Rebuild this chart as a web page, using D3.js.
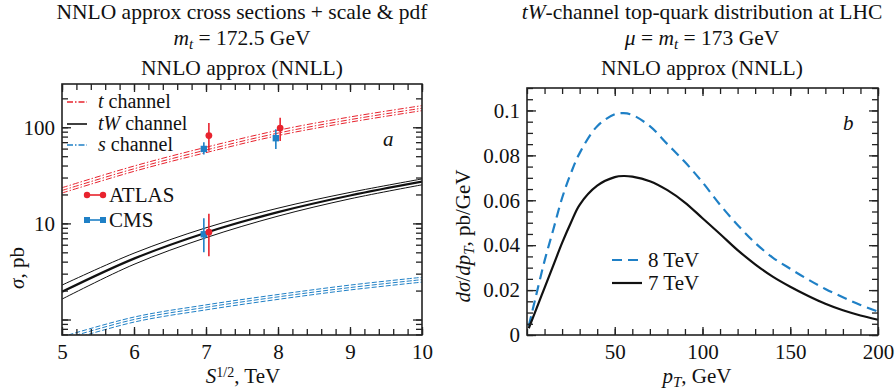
<!DOCTYPE html>
<html>
<head>
<meta charset="utf-8">
<script src="https://cdn.jsdelivr.net/npm/d3@7"></script>
<style>
  body { margin: 0; background: #fff; }
  svg { display: block; }
  text { font-family: "Liberation Serif", "Times New Roman", Times, "DejaVu Serif", serif; fill: #111; }
  .tick text { font-size: 21px; fill: #111; }
</style>
</head>
<body>
<div id="chart"></div>
<script>
// ---- panel a: total cross sections vs sqrt(S) ----
const energies = [5, 6, 7, 8, 9, 10];
const tChannel = [22, 37, 58, 87, 120, 158];
const tChannelUp = [23.5, 39.5, 62, 93, 128, 168];
const tChannelLo = [20.7, 34.8, 54.5, 82, 113, 149];
const tWChannel = [1.94, 4.3, 8.0, 13.1, 19.5, 27.2];
const tWChannelUp = [2.28, 4.9, 9.0, 14.4, 21.0, 29.0];
const tWChannelLo = [1.63, 3.75, 7.1, 11.9, 18.0, 25.2];
const sChannel = [0.62, 1.0, 1.34, 1.72, 2.15, 2.6];
const sChannelUp = [0.66, 1.06, 1.42, 1.82, 2.28, 2.75];
const sChannelLo = [0.58, 0.94, 1.26, 1.62, 2.03, 2.45];

const atlasX = [7.04, 8.03, 7.04];
const atlasY = [82, 98, 8.1];
const atlasLo = [57, 72, 4.55];
const atlasHi = [111, 126, 12.6];
const cmsX = [6.97, 7.97, 6.97];
const cmsY = [59.5, 77, 7.7];
const cmsLo = [52, 59.5, 5.0];
const cmsHi = [70, 95.5, 11.3];

const aXTicks = [5, 6, 7, 8, 9, 10];
const aYLabels = [10, 100];

// ---- panel b: tW pT distribution ----
const pT = [1, 5, 10, 15, 20, 25, 30, 40, 50, 55, 60, 70, 80, 90, 100, 110, 120, 130, 140, 150, 160, 170, 180, 190, 200];
const dist7 = [0.003, 0.011, 0.021, 0.031, 0.041, 0.050, 0.058, 0.0665, 0.0703, 0.0708, 0.0705, 0.0685, 0.0645, 0.059, 0.052, 0.045, 0.0378, 0.0315, 0.026, 0.0215, 0.0175, 0.0139, 0.011, 0.0087, 0.0068];
const dist8 = [0.004, 0.017, 0.033, 0.047, 0.061, 0.072, 0.081, 0.093, 0.0983, 0.0988, 0.098, 0.093, 0.085, 0.077, 0.068, 0.058, 0.049, 0.041, 0.0345, 0.0295, 0.0248, 0.0205, 0.0168, 0.0134, 0.0104];
const bXTicks = [50, 100, 150, 200];
const bYTicks = [0, 0.02, 0.04, 0.06, 0.08, 0.1];

const red = '#e8232e', blue = '#1f80c6';
const W = 896, H = 391;
const FS = '21px';

const svg = d3.select('#chart').append('svg').attr('width', W).attr('height', H);

function rich(sel, parts) {
  parts.forEach(p => {
    const t = sel.append('tspan').text(p.t);
    if (p.i) t.style('font-style', 'italic');
    if (p.sub) t.attr('baseline-shift', '-25%').style('font-size', '15px');
    if (p.sup) t.attr('baseline-shift', '40%').style('font-size', '14px');
  });
  return sel;
}

function frame(g, x, y, xMinor, yMinor, xMajor, yMajor) {
  const [x0, x1] = x.range(), [y0, y1] = y.range();
  g.append('g').attr('transform', `translate(0,${y0})`)
    .call(d3.axisBottom(x).tickValues(xMinor).tickSize(-6).tickFormat(''));
  g.append('g').attr('transform', `translate(0,${y1})`)
    .call(d3.axisTop(x).tickValues(xMinor).tickSize(-6).tickFormat(''));
  g.append('g').attr('transform', `translate(${x0},0)`)
    .call(d3.axisLeft(y).tickValues(yMinor).tickSize(-6).tickFormat(''));
  g.append('g').attr('transform', `translate(${x1},0)`)
    .call(d3.axisRight(y).tickValues(yMinor).tickSize(-6).tickFormat(''));
  g.append('g').attr('transform', `translate(${x0},0)`)
    .call(d3.axisLeft(y).tickValues(yMajor).tickSize(-9).tickFormat(''));
  g.append('g').attr('transform', `translate(${x1},0)`)
    .call(d3.axisRight(y).tickValues(yMajor).tickSize(-9).tickFormat(''));
  g.append('g').attr('transform', `translate(0,${y0})`)
    .call(d3.axisBottom(x).tickValues(xMajor).tickSize(-8).tickFormat(''));
  g.append('g').attr('transform', `translate(0,${y1})`)
    .call(d3.axisTop(x).tickValues(xMajor).tickSize(-8).tickFormat(''));
  g.selectAll('.domain').remove();
  g.selectAll('.tick line').attr('stroke', '#222').attr('stroke-width', 1.3);
  g.append('rect').attr('x', x0).attr('y', y1).attr('width', x1 - x0).attr('height', y0 - y1)
    .attr('fill', 'none').attr('stroke', '#222').attr('stroke-width', 1.6);
}

function labelAxis(g, axis, tx, ty) {
  g.append('g').attr('transform', `translate(${tx},${ty})`).call(axis)
    .attr('font-family', null).attr('font-size', null)
    .call(s => s.select('.domain').remove());
}

// ================= panel a =================
const xa = d3.scaleLinear().domain([5, 10]).range([62, 422]);
const ya = d3.scaleLog().domain([0.69, 282]).range([335, 84]);
const ga = svg.append('g');

ga.append('clipPath').attr('id', 'clipA').append('rect')
  .attr('x', 62).attr('y', 84).attr('width', 360).attr('height', 251);

const lineA = vals => d3.line().curve(d3.curveCatmullRom)
  .x((d, i) => xa(energies[i])).y(d => ya(d))(vals);

const curves = ga.append('g').attr('clip-path', 'url(#clipA)');
[tChannelUp, tChannel, tChannelLo].forEach(v => curves.append('path').attr('d', lineA(v))
  .attr('fill', 'none').attr('stroke', red).attr('stroke-width', 1).attr('stroke-dasharray', '6,2,1.5,2'));
[sChannelUp, sChannel, sChannelLo].forEach(v => curves.append('path').attr('d', lineA(v))
  .attr('fill', 'none').attr('stroke', blue).attr('stroke-width', 1).attr('stroke-dasharray', '5,2'));
[tWChannelUp, tWChannelLo].forEach(v => curves.append('path').attr('d', lineA(v))
  .attr('fill', 'none').attr('stroke', '#111').attr('stroke-width', 1));
curves.append('path').attr('d', lineA(tWChannel))
  .attr('fill', 'none').attr('stroke', '#111').attr('stroke-width', 2.2);

// data points
cmsX.forEach((xv, i) => {
  curves.append('line').attr('x1', xa(xv)).attr('x2', xa(xv))
    .attr('y1', ya(cmsLo[i])).attr('y2', ya(cmsHi[i])).attr('stroke', blue).attr('stroke-width', 1.6);
  curves.append('rect').attr('x', xa(xv) - 3.2).attr('y', ya(cmsY[i]) - 3.2)
    .attr('width', 6.4).attr('height', 6.4).attr('fill', blue);
});
atlasX.forEach((xv, i) => {
  curves.append('line').attr('x1', xa(xv)).attr('x2', xa(xv))
    .attr('y1', ya(atlasLo[i])).attr('y2', ya(atlasHi[i])).attr('stroke', red).attr('stroke-width', 1.6);
  curves.append('circle').attr('cx', xa(xv)).attr('cy', ya(atlasY[i])).attr('r', 3.4).attr('fill', red);
});

const aXMinor = d3.range(5, 10.001, 0.2);
const aYMinor = [];
[0.1, 1, 10, 100].forEach(p => d3.range(1, 10).forEach(k => {
  const v = +(k * p).toPrecision(3);
  if (v >= 0.69 && v <= 282) aYMinor.push(v);
}));
frame(ga, xa, ya, aXMinor, aYMinor, aXTicks, [1, 10, 100]);

labelAxis(ga, d3.axisBottom(xa).tickValues(aXTicks).tickSize(0).tickPadding(9).tickFormat(d3.format('d')), 0, 335);
labelAxis(ga, d3.axisLeft(ya).tickValues(aYLabels).tickSize(0).tickPadding(7).tickFormat(d3.format('d')), 62, 0);

// legend a
const legA = [
  { y: 102, color: red, dash: '6,2,1.5,2', w: 1.4, parts: [{ t: 't', i: 1 }, { t: ' channel' }] },
  { y: 124, color: '#111', dash: null, w: 1.6, parts: [{ t: 'tW', i: 1 }, { t: ' channel' }] },
  { y: 145, color: blue, dash: '6,2,1.5,2', w: 1.4, parts: [{ t: 's', i: 1 }, { t: ' channel' }] }
];
legA.forEach(l => {
  ga.append('line').attr('x1', 67).attr('x2', 87).attr('y1', l.y).attr('y2', l.y)
    .attr('stroke', l.color).attr('stroke-width', l.w).attr('stroke-dasharray', l.dash);
  rich(ga.append('text').attr('x', 98).attr('y', l.y + 6).style('font-size', '20px'), l.parts);
});
[{ y: 195, color: red, name: 'ATLAS', sym: 'c' }, { y: 220, color: blue, name: 'CMS', sym: 's' }].forEach(l => {
  ga.append('line').attr('x1', 87).attr('x2', 103).attr('y1', l.y).attr('y2', l.y)
    .attr('stroke', l.color).attr('stroke-width', 1.6);
  [87, 103].forEach(cx => {
    if (l.sym === 'c') ga.append('circle').attr('cx', cx).attr('cy', l.y).attr('r', 3.2).attr('fill', l.color);
    else ga.append('rect').attr('x', cx - 3).attr('y', l.y - 3).attr('width', 6).attr('height', 6).attr('fill', l.color);
  });
  ga.append('text').attr('x', 109).attr('y', l.y + 7).style('font-size', FS).text(l.name);
});
ga.append('text').attr('x', 383).attr('y', 146).style('font-size', FS).style('font-style', 'italic').text('a');

// titles / axis labels a
ga.append('text').attr('x', 242).attr('y', 19).attr('text-anchor', 'middle').style('font-size', '21.5px')
  .text('NNLO approx cross sections + scale & pdf');
rich(ga.append('text').attr('x', 242).attr('y', 45).attr('text-anchor', 'middle').style('font-size', '21.5px'),
  [{ t: 'm', i: 1 }, { t: 't', i: 1, sub: 1 }, { t: ' = 172.5 GeV' }]);
ga.append('text').attr('x', 242).attr('y', 75).attr('text-anchor', 'middle').style('font-size', '21.5px')
  .text('NNLO approx (NNLL)');
rich(ga.append('text').attr('x', 243).attr('y', 383).attr('text-anchor', 'middle').style('font-size', FS),
  [{ t: 'S', i: 1 }, { t: '1/2', sup: 1 }, { t: ', TeV' }]);
rich(ga.append('text').attr('transform', 'translate(24,268) rotate(-90)').attr('text-anchor', 'middle').style('font-size', FS),
  [{ t: 'σ', i: 1 }, { t: ', pb' }]);

// ================= panel b =================
const xb = d3.scaleLinear().domain([0, 200]).range([527, 878]);
const yb = d3.scaleLinear().domain([0, 0.11]).range([335, 88]);
const gb = svg.append('g');

const lineB = vals => d3.line().curve(d3.curveCatmullRom)
  .x((d, i) => xb(pT[i])).y(d => yb(d))(vals);

gb.append('path').attr('d', lineB(dist8)).attr('fill', 'none').attr('stroke', blue)
  .attr('stroke-width', 2.2).attr('stroke-dasharray', '10,6');
gb.append('path').attr('d', lineB(dist7)).attr('fill', 'none').attr('stroke', '#111')
  .attr('stroke-width', 2.2);

frame(gb, xb, yb, d3.range(0, 200.001, 10), d3.range(0, 0.1101, 0.005), bXTicks, bYTicks);

labelAxis(gb, d3.axisBottom(xb).tickValues(bXTicks).tickSize(0).tickPadding(9).tickFormat(d3.format('d')), 0, 335);
labelAxis(gb, d3.axisLeft(yb).tickValues(bYTicks).tickSize(0).tickPadding(7)
  .tickFormat(d => d === 0 ? '0' : d3.format('~g')(d)), 527, 0);

// legend b
[{ y: 260, color: blue, dash: '10,6', name: '8 TeV' }, { y: 283, color: '#111', dash: null, name: '7 TeV' }].forEach(l => {
  gb.append('line').attr('x1', 612).attr('x2', 642).attr('y1', l.y).attr('y2', l.y)
    .attr('stroke', l.color).attr('stroke-width', 2.2).attr('stroke-dasharray', l.dash);
  gb.append('text').attr('x', 648).attr('y', l.y + 7).style('font-size', FS).text(l.name);
});
gb.append('text').attr('x', 843).attr('y', 130).style('font-size', FS).style('font-style', 'italic').text('b');

rich(gb.append('text').attr('x', 702).attr('y', 19).attr('text-anchor', 'middle').style('font-size', '21.5px'),
  [{ t: 'tW', i: 1 }, { t: '-channel top-quark distribution at LHC' }]);
rich(gb.append('text').attr('x', 702).attr('y', 45).attr('text-anchor', 'middle').style('font-size', '21.5px'),
  [{ t: 'μ', i: 1 }, { t: ' = ' }, { t: 'm', i: 1 }, { t: 't', i: 1, sub: 1 }, { t: ' = 173 GeV' }]);
gb.append('text').attr('x', 702).attr('y', 75).attr('text-anchor', 'middle').style('font-size', '21.5px')
  .text('NNLO approx (NNLL)');
rich(gb.append('text').attr('x', 697).attr('y', 383).attr('text-anchor', 'middle').style('font-size', FS),
  [{ t: 'p', i: 1 }, { t: 'T', i: 1, sub: 1 }, { t: ', GeV' }]);
rich(gb.append('text').attr('transform', 'translate(470,236) rotate(-90)').attr('text-anchor', 'middle').style('font-size', FS),
  [{ t: 'dσ', i: 1 }, { t: '/' }, { t: 'dp', i: 1 }, { t: 'T', i: 1, sub: 1 }, { t: ', pb/GeV' }]);
</script>
</body>
</html>
